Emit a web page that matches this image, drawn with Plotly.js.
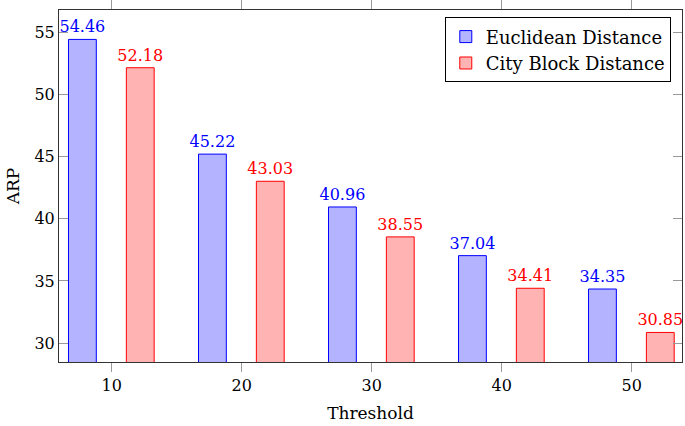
<!DOCTYPE html>
<html><head><meta charset="utf-8">
<script src="https://cdn.plot.ly/plotly-3.0.1.min.js"></script>
<style>body{margin:0;padding:0;background:#fff}</style>
</head><body>
<div id="chart" style="width:685px;height:426px"></div>
<script>
const thresholds = [10, 20, 30, 40, 50];
const euclidean = [54.46, 45.22, 40.96, 37.04, 34.35];
const cityBlock = [52.18, 43.03, 38.55, 34.41, 30.85];
const seriesNames = ['Euclidean Distance', 'City Block Distance'];

const font = "DejaVu Serif";
const fs = 16;
const barW = 2.14;
const traces = [
  {type:'bar', name:seriesNames[0], x:thresholds, y:euclidean, width:barW, offset:-3.32,
   marker:{color:'#b3b3ff', line:{color:'#0000ff', width:1}},
   text:euclidean.map(v=>v.toFixed(2)), textposition:'outside', cliponaxis:false,
   constraintext:'none',
   textfont:{family:font, size:fs, color:'#0000ff'}},
  {type:'bar', name:seriesNames[1], x:thresholds, y:cityBlock, width:barW, offset:1.13,
   marker:{color:'#ffb3b3', line:{color:'#ff0000', width:1}},
   text:cityBlock.map(v=>v.toFixed(2)), textposition:'outside', cliponaxis:false,
   constraintext:'none',
   textfont:{family:font, size:fs, color:'#ff0000'}}
];
const layout = {
  width:685, height:426,
  margin:{l:59, r:3, t:10, b:64},
  paper_bgcolor:'#fff', plot_bgcolor:'#fff',
  barmode:'overlay',
  font:{family:font, size:fs, color:'#000'},
  showlegend:true,
  legend:{x:0.982, y:0.979, xanchor:'right', yanchor:'top', bgcolor:'#fff',
          bordercolor:'#000', borderwidth:1, font:{family:font, size:18, color:'#000'},
          tracegroupgap:0, itemwidth:30},
  xaxis:{range:[5.95, 53.87], tickvals:thresholds, ticktext:thresholds.map(String),
         ticks:'outside', ticklen:9, tickcolor:'#999', tickwidth:1,
         showline:true, linecolor:'#333', linewidth:1, mirror:'ticks',
         showgrid:false, zeroline:false,
         tickfont:{family:font, size:fs},
         title:{text:'Threshold', font:{family:font, size:17}, standoff:12}},
  yaxis:{range:[28.47, 56.83], tickvals:[30,35,40,45,50,55],
         ticks:'inside', ticklen:9, tickcolor:'#999', tickwidth:1,
         showline:true, linecolor:'#333', linewidth:1, mirror:'ticks',
         showgrid:false, zeroline:false,
         tickfont:{family:font, size:fs},
         title:{text:'ARP', font:{family:font, size:17}, standoff:10}}
};
Plotly.newPlot('chart', traces, layout, {displayModeBar:false, staticPlot:true});
</script>
</body></html>
